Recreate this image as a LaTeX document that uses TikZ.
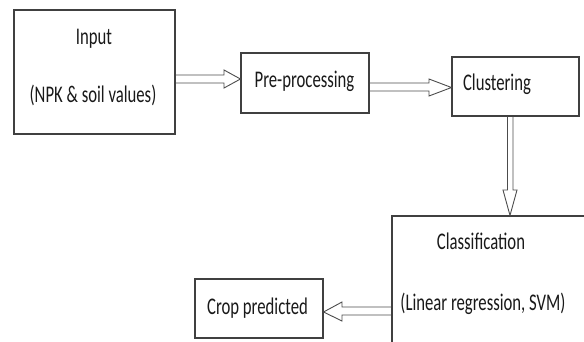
\documentclass[tikz,border=0pt]{standalone}
\usepackage{fontspec}
\setmainfont{Carlito}
\usepackage{graphicx}

\tikzset{
  box/.style={draw=black!75, line width=1.1pt, rectangle, inner sep=0pt},
  lbl/.style={anchor=base, inner sep=0pt, text=black!90, font=\fontsize{16.7}{20}\selectfont},
  hollow/.style={draw=black!70, line width=0.9pt, line join=miter},
}
\newcommand{\tall}[1]{\scalebox{1}[1.43]{#1}}

\begin{document}
\begin{tikzpicture}[x=1pt,y=-1pt]
\clip (0,0) rectangle (584,341);

% boxes
\node [box, minimum width=161pt, minimum height=124pt] (in) at (94.5,72) {};
\node [box, minimum width=128pt, minimum height=60pt] (pre) at (305,83) {};
\node [box, minimum width=127pt, minimum height=59pt] (clu) at (515.5,86.5) {};
\node [box, minimum width=210pt, minimum height=150pt] (cls) at (497,291) {};
\node [box, minimum width=128pt, minimum height=59pt] (crop) at (259,308.5) {};

% texts
\node [lbl] (inA) at (94,44.5) {\tall{Input}};
\node [lbl] (inB) at (93,102.5) {\tall{(NPK \& soil values)}};
\node [lbl] (preA) at (304.5,87) {\tall{Pre-processing}};
\node [lbl] (cluA) at (497,90.5) {\tall{Clustering}};
\node [lbl] (clsA) at (481,249) {\tall{Classification}};
\node [lbl] (clsB) at (483,310) {\tall{(Linear regression, SVM)}};
\node [lbl] (cropA) at (257.5,314) {\tall{Crop predicted}};

% hollow arrows
\draw[hollow] (in.east |- 0,75) -- (224,75) -- (224,70) -- (pre.west |- 0,79)
  -- (224,88) -- (224,83) -- (in.east |- 0,83);
\draw[hollow] (pre.east |- 0,83) -- (429,83) -- (429,79) -- (clu.west |- 0,87.5)
  -- (429,96) -- (429,91) -- (pre.east |- 0,91);
\draw[hollow] (507.5,0 |- clu.south) -- (507.5,190) -- (503,190) -- (510,0 |- cls.north)
  -- (517,190) -- (513,190) -- (513,0 |- clu.south);
\draw[hollow] (cls.west |- 0,307) -- (342,307) -- (342,302) -- (crop.east |- 0,312)
  -- (342,321) -- (342,315) -- (cls.west |- 0,315);

\end{tikzpicture}
\end{document}
